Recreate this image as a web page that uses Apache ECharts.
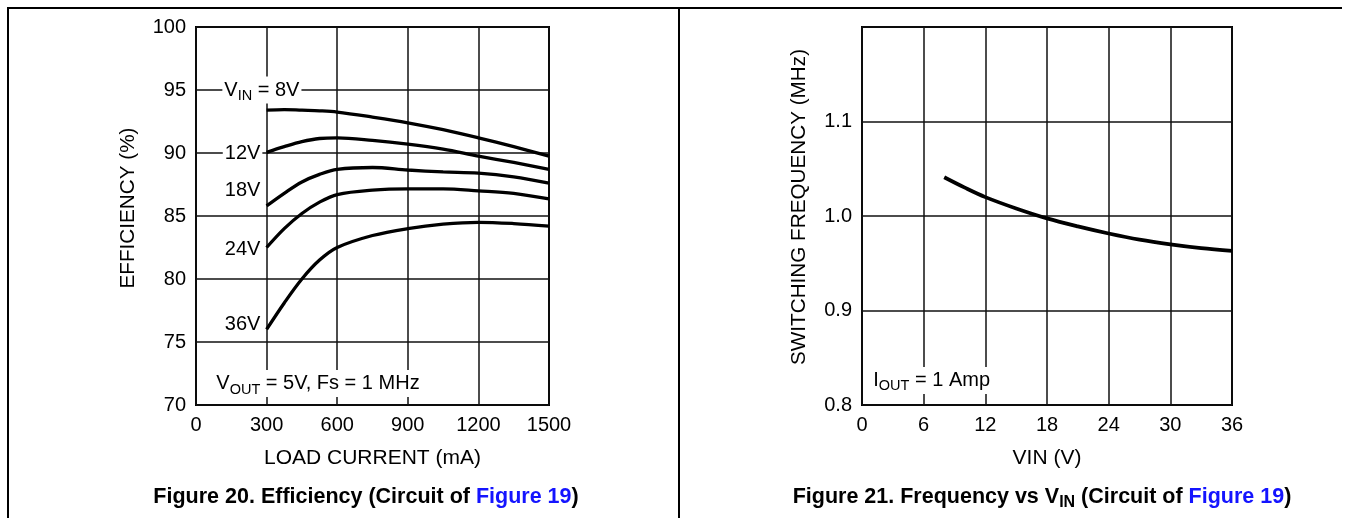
<!DOCTYPE html>
<html>
<head>
<meta charset="utf-8">
<script src="https://cdn.jsdelivr.net/npm/echarts@6/dist/echarts.min.js"></script>
<style>
html,body{margin:0;padding:0;background:#fff;}
#chart{width:1351px;height:518px;}
</style>
</head>
<body>
<div id="chart"></div>
<script>
// ---- Data (Figure 20: efficiency vs load current) ----
const loadCurrent = [300, 375, 450, 525, 600, 750, 900, 1050, 1200, 1350, 1500];
const eff8V  = [93.4, 93.45, 93.4, 93.35, 93.25, 92.85, 92.4, 91.85, 91.2, 90.5, 89.75];
const eff12V = [90.05, 90.5, 90.9, 91.15, 91.2, 91.0, 90.7, 90.3, 89.75, 89.25, 88.7];
const eff18V = [85.8, 86.8, 87.7, 88.3, 88.7, 88.85, 88.65, 88.5, 88.4, 88.1, 87.6];
const eff24V = [82.5, 84.0, 85.2, 86.1, 86.7, 87.05, 87.15, 87.15, 87.0, 86.8, 86.35];
const eff36V = [76.0, 78.1, 80.0, 81.5, 82.5, 83.45, 84.0, 84.35, 84.5, 84.4, 84.2];
const effTicks = [70, 75, 80, 85, 90, 95, 100];
const currentTicks = [0, 300, 600, 900, 1200, 1500];

// ---- Data (Figure 21: switching frequency vs VIN) ----
const vin = [8, 10, 12, 15, 18, 21, 24, 27, 30, 33, 36];
const freq = [1.041, 1.030, 1.020, 1.008, 0.9975, 0.989, 0.9815, 0.975, 0.970, 0.966, 0.963];
const freqTicks = [0.8, 0.9, 1.0, 1.1];
const vinTicks = [0, 6, 12, 18, 24, 30, 36];

const FONT = '"Liberation Sans", Arial, sans-serif';
const chart = echarts.init(document.getElementById('chart'), null, {renderer: 'canvas'});

function pairs(xs, ys) { return xs.map((x, i) => [x, ys[i]]); }

const curveStyle = {color: '#000', width: 3.3};
function effSeries(name, ys) {
  return {
    name, type: 'line', xAxisIndex: 0, yAxisIndex: 0,
    data: pairs(loadCurrent, ys), smooth: 0.35, symbol: 'none',
    lineStyle: curveStyle, silent: true, z: 5
  };
}

const axisLabelStyle = {color: '#000', fontSize: 20, fontFamily: FONT, margin: 10, formatter: v => String(v)};
const gridLine = {show: true, lineStyle: {color: '#111', width: 1.5}};
const nameStyle = {color: '#000', fontSize: 21, fontFamily: FONT};

const option = {
  animation: false,
  backgroundColor: '#fff',
  grid: [
    {left: 196, top: 27, width: 353, height: 378, show: true, borderColor: '#000', borderWidth: 2, backgroundColor: 'transparent'},
    {left: 862, top: 27, width: 370, height: 378, show: true, borderColor: '#000', borderWidth: 2, backgroundColor: 'transparent'}
  ],
  xAxis: [
    {
      type: 'value', gridIndex: 0, min: currentTicks[0], max: currentTicks[currentTicks.length - 1], interval: 300,
      axisLine: {show: false}, axisTick: {show: false}, splitLine: gridLine,
      axisLabel: axisLabelStyle,
      name: 'LOAD CURRENT (mA)', nameLocation: 'middle', nameGap: 43,
      nameTextStyle: nameStyle
    },
    {
      type: 'value', gridIndex: 1, min: vinTicks[0], max: vinTicks[vinTicks.length - 1], interval: 6,
      axisLine: {show: false}, axisTick: {show: false}, splitLine: gridLine,
      axisLabel: axisLabelStyle,
      name: 'VIN (V)', nameLocation: 'middle', nameGap: 43,
      nameTextStyle: nameStyle
    }
  ],
  yAxis: [
    {
      type: 'value', gridIndex: 0, min: effTicks[0], max: effTicks[effTicks.length - 1], interval: 5,
      axisLine: {show: false}, axisTick: {show: false}, splitLine: gridLine,
      axisLabel: axisLabelStyle
    },
    {
      type: 'value', gridIndex: 1, min: freqTicks[0], max: 1.2, interval: 0.1,
      axisLine: {show: false}, axisTick: {show: false}, splitLine: gridLine,
      axisLabel: Object.assign({}, axisLabelStyle, {
        formatter: v => (v > freqTicks[freqTicks.length - 1] + 0.05 ? '' : v.toFixed(1))
      })
    }
  ],
  series: [
    effSeries('8V', eff8V),
    effSeries('12V', eff12V),
    effSeries('18V', eff18V),
    effSeries('24V', eff24V),
    effSeries('36V', eff36V),
    {
      name: 'freq', type: 'line', xAxisIndex: 1, yAxisIndex: 1,
      data: pairs(vin, freq), smooth: 0.35, symbol: 'none',
      lineStyle: {color: '#000', width: 3.7}, silent: true, z: 5
    }
  ]
};
chart.setOption(option);

// ---- Annotations anchored in data coordinates ----
const base = {fontSize: 20, fontFamily: FONT, fill: '#000'};
const sub = {fontSize: 14.5, fontFamily: FONT, fill: '#000', padding: [12, 0, 0, 0]};
const annotations = [
  {grid: 0, at: [112, 95], text: '{b|V}{s|IN}{b| = 8V}', align: 'left'},
  {grid: 0, at: [282, 90], text: '{b|12V}', align: 'right'},
  {grid: 0, at: [282, 87.0], text: '{b|18V}', align: 'right'},
  {grid: 0, at: [282, 82.35], text: '{b|24V}', align: 'right'},
  {grid: 0, at: [282, 76.4], text: '{b|36V}', align: 'right'},
  {grid: 0, at: [78, 71.7], text: '{b|V}{s|OUT}{b| = 5V, Fs = 1 MHz}', align: 'left'},
  {grid: 1, at: [0.9, 0.826], text: '{b|I}{s|OUT}{b| = 1 Amp}', align: 'left'}
];
const graphics = annotations.map(a => {
  const p = chart.convertToPixel({gridIndex: a.grid}, a.at);
  return {
    type: 'text', x: p[0], y: p[1], z: 100,
    style: {
      text: a.text, align: a.align, verticalAlign: 'middle',
      backgroundColor: '#fff', padding: [0, 2, 0, 2],
      rich: {b: base, s: sub}
    }
  };
});

// axis titles (vertical), captions, page frame
const capRich = {
  k: {fontSize: 21.5, fontWeight: 'bold', fontFamily: FONT, fill: '#000'},
  l: {fontSize: 21.5, fontWeight: 'bold', fontFamily: FONT, fill: '#1414ff'},
  ks: {fontSize: 16, fontWeight: 'bold', fontFamily: FONT, fill: '#000', padding: [11, 0, 0, 0]}
};
graphics.push(
  {type: 'text', x: 128, y: 208, rotation: Math.PI / 2, z: 10,
   style: {text: 'EFFICIENCY (%)', align: 'center', verticalAlign: 'middle', fontSize: 20.7, fontFamily: FONT, fill: '#000'}},
  {type: 'text', x: 799, y: 207, rotation: Math.PI / 2, z: 10,
   style: {text: 'SWITCHING FREQUENCY (MHz)', align: 'center', verticalAlign: 'middle', fontSize: 20.7, fontFamily: FONT, fill: '#000'}},
  {type: 'text', x: 366, y: 497, z: 10,
   style: {text: '{k|Figure 20. Efficiency (Circuit of }{l|Figure 19}{k|)}', align: 'center', verticalAlign: 'middle', rich: capRich}},
  {type: 'text', x: 1042, y: 497, z: 10,
   style: {text: '{k|Figure 21. Frequency vs V}{ks|IN}{k| (Circuit of }{l|Figure 19}{k|)}', align: 'center', verticalAlign: 'middle', rich: capRich}},
  {type: 'polyline', z: 10, shape: {points: [[8, 518], [8, 8], [1342, 8]]}, style: {stroke: '#000', lineWidth: 2, fill: null}},
  {type: 'line', z: 10, shape: {x1: 679, y1: 8, x2: 679, y2: 518}, style: {stroke: '#000', lineWidth: 2}}
);
chart.setOption({graphic: graphics});
</script>
</body>
</html>
